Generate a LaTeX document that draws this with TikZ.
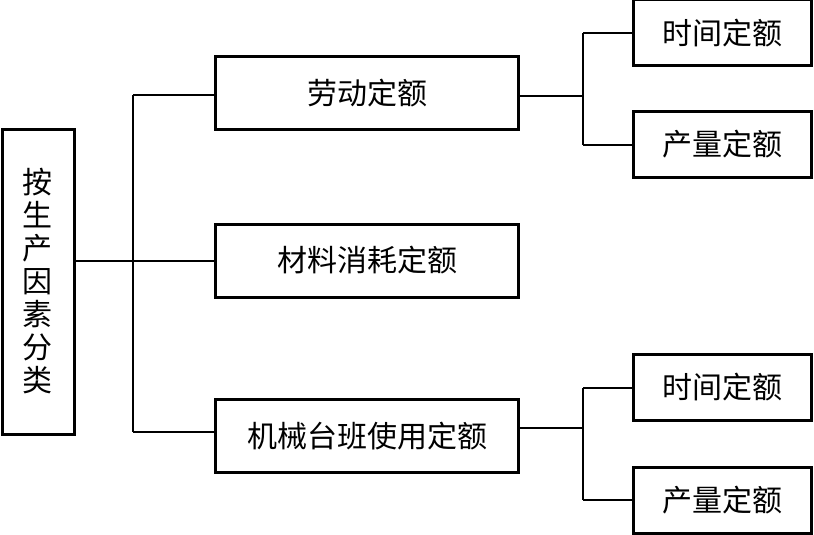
\documentclass[tikz,border=0pt]{standalone}
\usepackage{fontspec}
\newfontfamily\cjk{Noto Sans CJK SC}
\begin{document}
\begin{tikzpicture}[x=1pt,y=-1pt,
  box/.style={draw=black,line width=3pt,inner sep=0pt,font=\cjk\fontsize{30}{33}\selectfont},
  conn/.style={draw=black,line width=2pt}]
\useasboundingbox (0,0) rectangle (814,535);
% left box
\node[box,minimum width=72pt,minimum height=305pt,align=center] (L) at (38,281.5) {按\\生\\产\\因\\素\\分\\类};
% middle boxes
\node[box,minimum width=303pt,minimum height=72pt] (M1) at (367,93) {劳动定额};
\node[box,minimum width=303pt,minimum height=73pt] (M2) at (367,260.5) {材料消耗定额};
\node[box,minimum width=303pt,minimum height=73pt] (M3) at (367,436) {机械台班使用定额};
% right boxes
\node[box,minimum width=178pt,minimum height=66pt] (R1) at (722.5,33) {时间定额};
\node[box,minimum width=178pt,minimum height=66pt] (R2) at (722.5,144.5) {产量定额};
\node[box,minimum width=178pt,minimum height=66pt] (R3) at (722.5,387.5) {时间定额};
\node[box,minimum width=178pt,minimum height=66pt] (R4) at (722.5,500) {产量定额};
% trunk coordinates
\coordinate (t1) at (133,0);
\coordinate (t2) at (583,0);
% connectors
\draw[conn] (M2.west -| L.east) -- (M2.west);
\draw[conn] ([yshift=-2pt]M1.west -| t1) -- ([yshift=4pt]M3.west -| t1);
\draw[conn] ([yshift=-2pt]M1.west -| t1) -- ([yshift=-2pt]M1.west);
\draw[conn] ([yshift=4pt]M3.west -| t1) -- ([yshift=4pt]M3.west);
\draw[conn] ([yshift=-3pt]M1.east) -- ([yshift=-3pt]M1.east -| t2);
\draw[conn] (R1.west -| t2) -- (R2.west -| t2);
\draw[conn] (R1.west -| t2) -- (R1.west);
\draw[conn] (R2.west -| t2) -- (R2.west);
\draw[conn] ([yshift=8pt]M3.east) -- ([yshift=8pt]M3.east -| t2);
\draw[conn] (R3.west -| t2) -- (R4.west -| t2);
\draw[conn] (R3.west -| t2) -- (R3.west);
\draw[conn] (R4.west -| t2) -- (R4.west);
\end{tikzpicture}
\end{document}
